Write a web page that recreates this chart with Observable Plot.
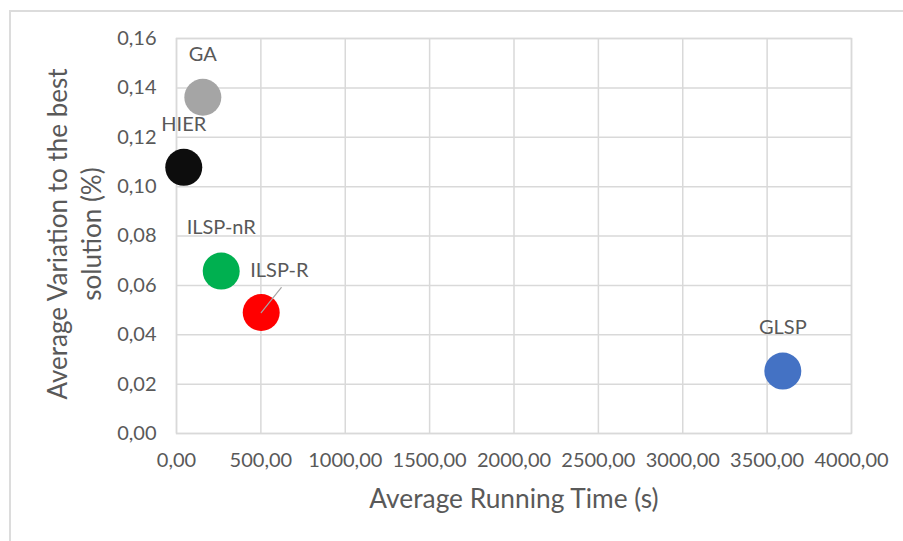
<!DOCTYPE html>
<html>
<head>
<meta charset="utf-8">
<script src="https://cdn.jsdelivr.net/npm/d3@7"></script>
<script src="https://cdn.jsdelivr.net/npm/@observablehq/plot@0.6"></script>
<style>
  html, body { margin: 0; padding: 0; background: #fff; }
  #wrap { position: relative; width: 903px; height: 541px; overflow: hidden; }
  #border { position: absolute; left: 9px; top: 10px; width: 900px; height: 540px;
            border-left: 2px solid #dcdcdc; border-top: 2px solid #dcdcdc; box-sizing: border-box; }
  #chart { position: absolute; left: 0; top: 0; }
  svg text { font-family: Lato, "Open Sans", sans-serif; }
</style>
</head>
<body>
<div id="wrap"><div id="border"></div><div id="chart"></div></div>
<script>
// Heuristics compared: average running time vs. average variation to the best solution
const methods = ["GA", "HIER", "ILSP-nR", "ILSP-R", "GLSP"];
const runningTime = [156, 43, 265, 502, 3593];
const variation = [0.1362, 0.1078, 0.0658, 0.0490, 0.0253];
const xTicks = [0, 500, 1000, 1500, 2000, 2500, 3000, 3500, 4000];
const yTicks = [0, 0.02, 0.04, 0.06, 0.08, 0.10, 0.12, 0.14, 0.16];
const xTitle = "Average Running Time (s)";
const yTitle = "Average Variation to the best\nsolution (%)";

const palette = ["#a5a5a5", "#0d0d0d", "#00b050", "#ff0000", "#4472c4"];
const textColor = "#595959";
const gridColor = "#d9d9d9";

const rows = methods.map((m, i) => ({ method: m, time: runningTime[i], variation: variation[i] }));
const commaFormat = (digits) => (d) => d3.format(`.${digits}f`)(d).replace(".", ",");

const chart = Plot.plot({
  width: 903,
  height: 541,
  marginLeft: 176,
  marginRight: 52,
  marginTop: 38,
  marginBottom: 108,
  style: { background: "transparent", color: textColor, fontSize: "20px" },
  x: { domain: [0, 4000] },
  y: { domain: [0, 0.16] },
  color: { domain: methods, range: palette },
  marks: [
    Plot.gridX(xTicks, { stroke: gridColor, strokeOpacity: 1, strokeWidth: 1.5 }),
    Plot.gridY(yTicks, { stroke: gridColor, strokeOpacity: 1, strokeWidth: 1.5 }),
    Plot.frame({ stroke: gridColor, strokeWidth: 1.5 }),
    Plot.axisX(xTicks, {
      tickSize: 0, tickPadding: 19, tickFormat: commaFormat(2),
      fill: textColor, fontSize: 20, label: null
    }),
    Plot.axisY(yTicks, {
      tickSize: 0, tickPadding: 20, tickFormat: commaFormat(2),
      fill: textColor, fontSize: 20, label: null
    }),
    Plot.dot(rows, { x: "time", y: "variation", r: 18.5, fill: "method", stroke: null }),
    // point labels above each dot
    Plot.text(rows.filter(d => d.method !== "ILSP-R"), {
      x: "time", y: "variation", text: "method", dy: -43,
      fill: textColor, fontSize: 20
    }),
    // ILSP-R label sits up and to the right, with a leader line
    Plot.text(rows.filter(d => d.method === "ILSP-R"), {
      x: "time", y: "variation", text: "method", dx: -11, dy: -42,
      textAnchor: "start", fill: textColor, fontSize: 20
    }),
    Plot.vector(rows.filter(d => d.method === "ILSP-R"), {
      x: "time", y: "variation", length: 32, rotate: 38.7, anchor: "start",
      stroke: "#a6a6a6", strokeWidth: 1.2,
      shape: { draw(context, l) { context.moveTo(0, 0); context.lineTo(0, -l); } }
    }),
    Plot.text([xTitle], {
      frameAnchor: "bottom", dy: 74, fill: textColor, fontSize: 26.3
    }),
    Plot.text([yTitle], {
      frameAnchor: "left", textAnchor: "middle", dx: -103, dy: -2, rotate: -90, lineHeight: 1.3,
      fill: textColor, fontSize: 26
    })
  ]
});

document.getElementById("chart").append(chart);
</script>
</body>
</html>
